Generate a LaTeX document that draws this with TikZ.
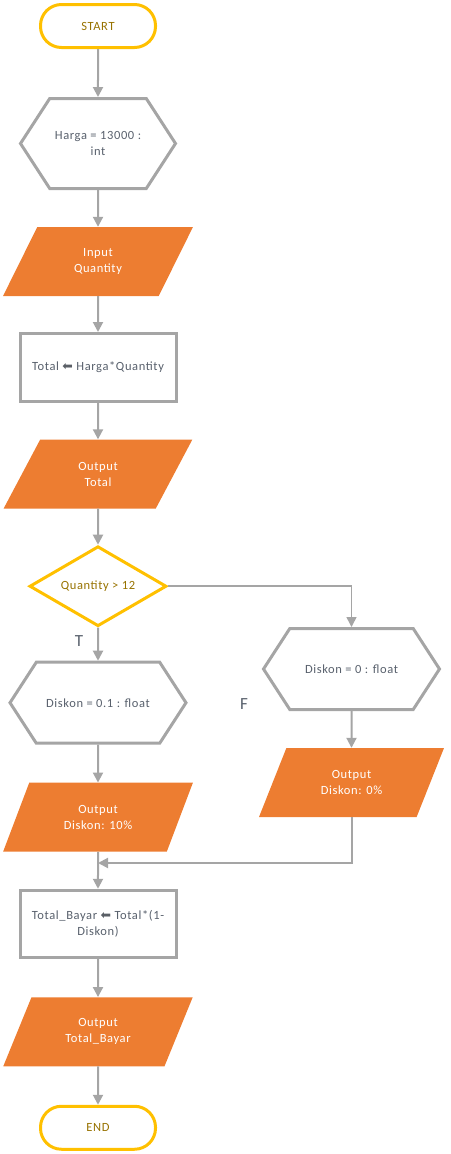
\documentclass[tikz,border=0pt]{standalone}
\usepackage{fontspec}
\setmainfont{Carlito}[LetterSpace=5]
\newfontfamily\arrowfont{DejaVu Sans}
\usepackage{xcolor}
\usetikzlibrary{shapes.geometric, shapes.symbols, arrows.meta, positioning, calc}

\definecolor{flowyellow}{HTML}{FFC000}
\definecolor{flowgold}{HTML}{977200}
\definecolor{flowgray}{HTML}{A5A5A5}
\definecolor{floworange}{HTML}{ED7D31}
\definecolor{flowtext}{HTML}{58606C}
\definecolor{arrowgray}{HTML}{5A5F66}

\newcommand{\assign}{{\arrowfont\fontsize{12.5}{14}\selectfont\color{arrowgray}\char"2B05}}

\begin{document}
\begin{tikzpicture}[
        x=1pt, y=1pt,
        base/.style={font=\fontsize{12.5}{16}\selectfont, align=center, inner sep=2pt},
        terminal/.style={base, rectangle, rounded corners=21pt, draw=flowyellow, line width=3pt, minimum width=115pt, minimum height=43pt, text=flowgold},
        declare/.style={base, signal, signal to=west and east, signal pointer angle=114, draw=flowgray, line width=3pt, text=flowtext},
        process/.style={base, rectangle, draw=flowgray, line width=3pt, minimum width=156pt, minimum height=68pt, text=flowtext},
        io/.style={base, trapezium, trapezium left angle=64, trapezium right angle=116, trapezium stretches=true, fill=floworange, minimum width=190pt, minimum height=69pt, text=white},
        decision/.style={base, diamond, aspect=1.7, draw=flowyellow, line width=3pt, minimum width=137pt, minimum height=80pt, inner sep=0pt, text=flowgold},
        arrow/.style={-{Triangle[width=10pt,length=10pt]}, draw=flowgray, line width=2pt},
        branch/.style={font=\fontsize{17}{20}\selectfont, text=flowtext}
    ]
        \useasboundingbox (0,0) rectangle (450,-1154);

        % jalur utama
        \node[terminal] (start) at (98,-26) {START};
        \node[declare, minimum width=155pt, minimum height=90pt, below=48pt of start] (harga) {Harga = 13000 :\\int};
        \node[io, below=36.8pt of harga] (input) {Input\\Quantity};
        \node[process, below=35.8pt of input] (total) {Total \assign\ Harga*Quantity};
        \node[io, below=36.3pt of total] (outtotal) {Output\\Total};
        \node[decision, below=36pt of outtotal] (cek) {Quantity > 12};

        % cabang T
        \node[declare, minimum width=176pt, minimum height=81pt, below=33pt of cek] (diskon1) {Diskon = 0.1 : float};
        \node[io, below=37.8pt of diskon1] (outdiskon1) {Output\\Diskon: 10\%};

        % cabang F
        \node[declare, minimum width=176pt, minimum height=81pt] (diskon0) at (351.5,-669) {Diskon = 0 : float};
        \node[io, minimum width=186pt, below=36.8pt of diskon0] (outdiskon0) {Output\\Diskon: 0\%};

        % gabung lagi
        \node[process, minimum height=67pt, below=36.8pt of outdiskon1] (bayar) {Total\_Bayar \assign\ Total*(1-\\Diskon)};
        \node[io, below=38.3pt of bayar] (outbayar) {Output\\Total\_Bayar};
        \node[terminal, below=38.3pt of outbayar] (end) {END};

        \node[branch] (t) at (79,-641) {T};
        \node[branch] (f) at (244,-704) {F};

        % panah
        \draw[arrow] (start) -- (harga);
        \draw[arrow] (harga) -- (input);
        \draw[arrow] (input) -- (total);
        \draw[arrow] (total) -- (outtotal);
        \draw[arrow] (outtotal) -- (cek);
        \draw[arrow] (cek) -- (diskon1);
        \draw[arrow, line width=1.5pt] (cek.east) -| (diskon0.north);
        \draw[arrow] (diskon1) -- (outdiskon1);
        \draw[arrow] (diskon0) -- (outdiskon0);
        \coordinate (merge) at ($(outdiskon1.south)!0.3!(bayar.north)$);
        \draw[arrow] (outdiskon0.south) |- (merge);
        \draw[arrow] (outdiskon1) -- (bayar);
        \draw[arrow] (bayar) -- (outbayar);
        \draw[arrow] (outbayar) -- (end);
    \end{tikzpicture}
\end{document}
